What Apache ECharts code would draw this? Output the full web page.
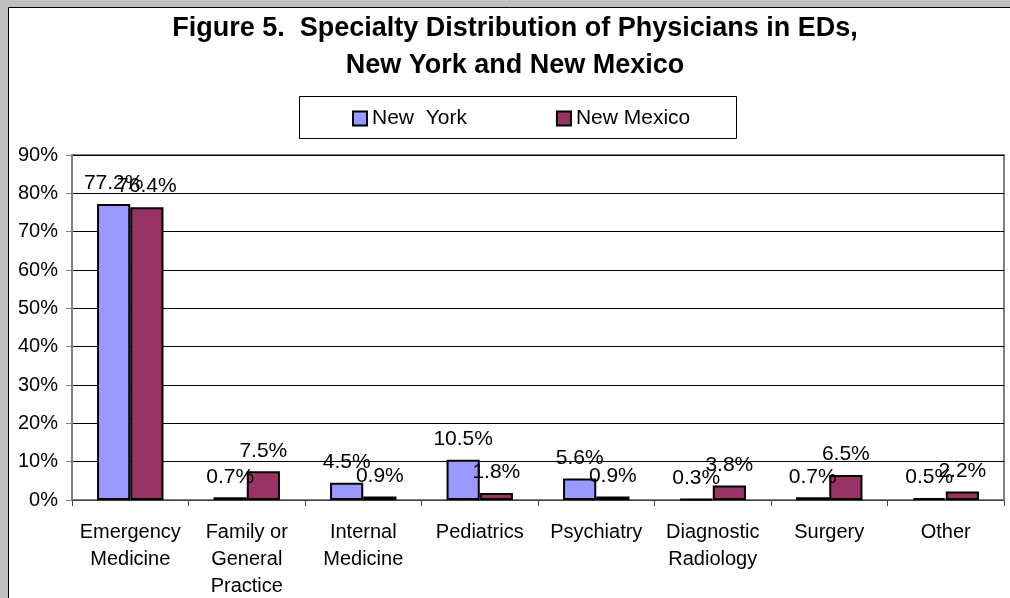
<!DOCTYPE html>
<html>
<head>
<meta charset="utf-8">
<style>
html,body{margin:0;padding:0;background:#c0c0c0;}
#chart{width:1010px;height:598px;}
</style>
<script src="https://cdn.jsdelivr.net/npm/echarts@6/dist/echarts.min.js"></script>
</head>
<body>
<div id="chart"></div>
<script>
const categories = ["Emergency\nMedicine", "Family or\nGeneral\nPractice", "Internal\nMedicine", "Pediatrics", "Psychiatry", "Diagnostic\nRadiology", "Surgery", "Other"];
const newYork = [77.2, 0.7, 4.5, 10.5, 5.6, 0.3, 0.7, 0.5];
const newMexico = [76.4, 7.5, 0.9, 1.8, 0.9, 3.8, 6.5, 2.2];
const seriesNames = ["New  York", "New Mexico"];
const titleText = "Figure 5.  Specialty Distribution of Physicians in EDs,\nNew York and New Mexico";

const FONT = "'Liberation Sans', Arial, sans-serif";
const chart = echarts.init(document.getElementById('chart'), null, {renderer: 'canvas'});
const labelStyle = {
  show: true, position: 'top', distance: 10,
  formatter: p => p.value + '%',
  fontFamily: FONT, fontSize: 21, color: '#000'
};
chart.setOption({
  backgroundColor: '#c0c0c0',
  animation: false,
  graphic: [
    {type: 'rect', z: -10, shape: {x: 8.5, y: 7.5, width: 1010, height: 600},
     style: {fill: '#fff', stroke: '#000', lineWidth: 1}},
    {type: 'rect', z: -5, shape: {x: 299.5, y: 96.5, width: 437, height: 42},
     style: {fill: '#fff', stroke: '#000', lineWidth: 1}}
  ],
  title: {
    text: titleText, left: 510, textAlign: 'center', top: 5,
    textStyle: {fontFamily: FONT, fontSize: 27, fontWeight: 'bold', color: '#000', lineHeight: 37}
  },
  legend: {
    left: 347, top: 103, itemWidth: 14, itemHeight: 14, itemGap: 89,
    icon: 'rect',
    textStyle: {fontFamily: FONT, fontSize: 21, color: '#000', padding: [0, 0, 0, 0]},
    data: seriesNames
  },
  grid: {
    left: 72, right: 6, top: 155, bottom: 98,
    outerBoundsMode: 'none', containLabel: false,
    show: true, borderColor: '#808080', borderWidth: 2, backgroundColor: 'transparent'
  },
  xAxis: {
    type: 'category', data: categories,
    axisLine: {lineStyle: {color: '#404040', width: 1}},
    axisTick: {show: true, length: 6, alignWithLabel: false, lineStyle: {color: '#404040'}},
    axisLabel: {fontFamily: FONT, fontSize: 20, color: '#000', margin: 19, lineHeight: 27, interval: 0}
  },
  yAxis: {
    type: 'value', min: 0, max: 90, interval: 10,
    axisLine: {show: true, lineStyle: {color: '#808080'}},
    axisTick: {show: true, length: 6, lineStyle: {color: '#808080'}},
    axisLabel: {formatter: '{value}%', fontFamily: FONT, fontSize: 20, color: '#000', margin: 14},
    splitLine: {lineStyle: {color: '#000', width: 1}}
  },
  series: [
    {name: seriesNames[0], type: 'bar', data: newYork, barGap: '0%', barCategoryGap: '43%',
     itemStyle: {color: '#9999ff', borderColor: '#000', borderWidth: 2}, label: labelStyle},
    {name: seriesNames[1], type: 'bar', data: newMexico,
     itemStyle: {color: '#993366', borderColor: '#000', borderWidth: 2}, label: labelStyle}
  ]
});
</script>
</body>
</html>
